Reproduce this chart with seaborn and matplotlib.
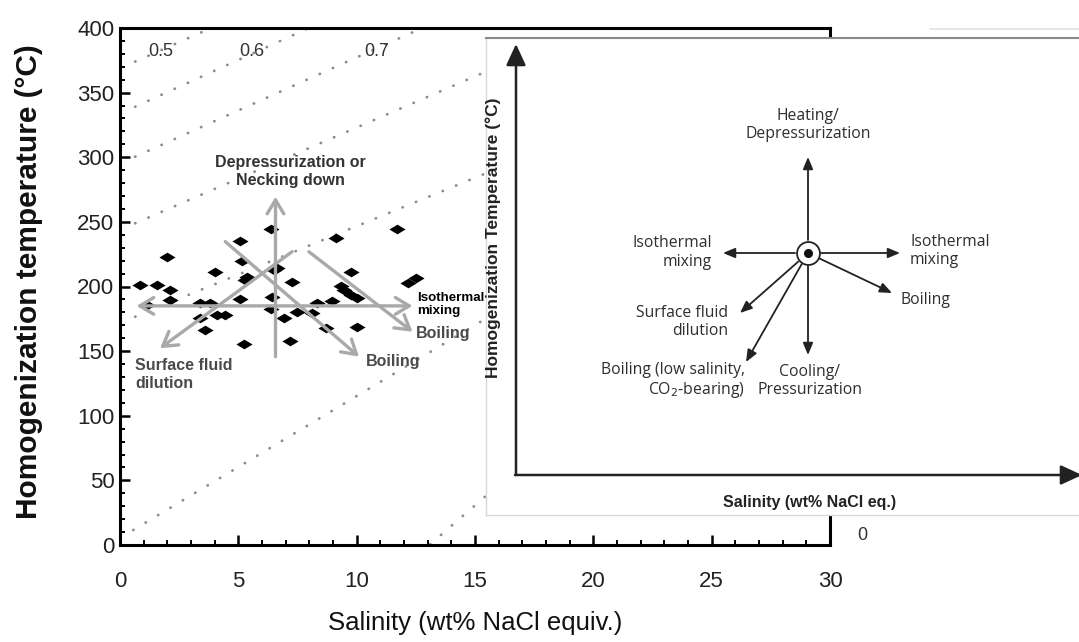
import matplotlib.pyplot as plt
from matplotlib.path import Path
from matplotlib.lines import Line2D
import pandas as pd
import seaborn as sns

sns.set_theme(style="white")
plt.rcParams["font.family"] = ["Liberation Sans", "DejaVu Sans"]

salinity = [6.36, 11.72, 5.08, 9.11, 1.98, 5.15, 4.03, 6.64, 6.5, 9.75, 5.37, 5.3, 7.27, 12.5,
            12.15, 0.85, 1.55, 2.12, 9.32, 9.46, 9.75, 10.03, 2.12, 5.08, 6.43, 8.33, 8.97, 1.13,
            3.39, 3.81, 6.36, 7.49, 8.12, 4.1, 4.45, 3.39, 6.92, 3.6, 8.69, 10.03, 5.22, 7.2]
th = [244.3, 244.3, 235.5, 237.3, 222.7, 220.1, 211.5, 214.1, 212.8, 211.5, 207.7, 205.0, 203.8,
      206.3, 202.5, 201.2, 201.2, 197.3, 200.4, 197.3, 193.5, 190.9, 189.7, 190.1, 192.1, 187.5,
      189.0, 185.7, 187.0, 187.0, 182.4, 180.6, 179.8, 178.0, 178.0, 175.4, 175.4, 166.4, 167.7,
      168.5, 155.5, 158.1]

# isochores (dotted lines), start and end point of each
iso_x0 = [0.64, 0.64, 0.64, 0.64, 0.64, 0.56, 13.1]
iso_y0 = [374.0, 339.1, 300.4, 248.9, 176.6, 11.6, 0.5]
iso_x1 = [3.85, 7.98, 12.77, 16.0, 16.0, 16.0, 16.0]
iso_y1 = [400.0, 400.0, 400.0, 370.5, 291.6, 181.1, 46.5]
density_labels = ["0.5", "0.6", "0.7"]
density_x = [1.74, 5.59, 10.85]

# trend arrows on the data panel: tail -> head
trend_x0 = [6.57, 7.27, 4.45, 7.98]
trend_y0 = [145.7, 226.9, 234.7, 226.9]
trend_x1 = [6.57, 1.69, 10.1, 12.36]
trend_y1 = [269.5, 152.2, 145.7, 165.0]
mix_x = [0.7, 12.36]
mix_y = 185.0

# schematic: process arrows from the starting fluid
proc_labels = ["Heating/\nDepressurization", "Isothermal\nmixing", "Isothermal\nmixing", "Boiling",
               "Surface fluid\ndilution", "Boiling (low salinity,\nCO$_2$-bearing)",
               "Cooling/\nPressurization"]
proc_dx = [0, -85, 92, 84, -68, -62, 0]
proc_dy = [96, 0, 0, -40, -60, -109, -102]

df = pd.DataFrame({"salinity": salinity, "th": th})

W, H = 1079, 642
fig = plt.figure(figsize=(W / 100, H / 100), dpi=100)
fig.patch.set_facecolor("white")
ax = fig.add_axes([120 / W, (H - 545) / H, 710 / W, 517 / H])

# isochores
for x0, y0, x1, y1 in zip(iso_x0, iso_y0, iso_x1, iso_y1):
    ax.plot([x0, x1], [y0, y1], color="#8c8c8c", lw=2.0, ls=(0, (0.1, 5.1)),
            dash_capstyle="round", zorder=1)
for lab, x in zip(density_labels, density_x):
    ax.text(x, 381.7, lab, ha="center", va="center", fontsize=13, color="#333333")

diamond = Path([(-1, 0), (0, 0.6), (1, 0), (0, -0.6), (-1, 0)],
               [Path.MOVETO, Path.LINETO, Path.LINETO, Path.LINETO, Path.CLOSEPOLY])
sns.scatterplot(data=df, x="salinity", y="th", marker=diamond, s=135, color="black",
                linewidth=0, ax=ax, zorder=3)

arrow_kw = dict(arrowstyle="->,head_length=0.5,head_width=0.3", mutation_scale=20,
                lw=2.4, color="#a9a9a9", shrinkA=0, shrinkB=0)
for x0, y0, x1, y1 in zip(trend_x0, trend_y0, trend_x1, trend_y1):
    ax.annotate("", xy=(x1, y1), xytext=(x0, y0), arrowprops=arrow_kw, zorder=4)
ax.annotate("", xy=(mix_x[1], mix_y), xytext=(mix_x[0], mix_y),
            arrowprops=dict(arrow_kw, arrowstyle="<->,head_length=0.5,head_width=0.3"), zorder=4)

ax.text(7.2, 288.6, "Depressurization or\nNecking down", ha="center", va="center",
        fontsize=11.5, fontweight="bold", color="#333333", linespacing=1.25)
ax.text(0.64, 132.3, "Surface fluid\ndilution", ha="left", va="center", fontsize=11.5,
        fontweight="bold", color="#4a4a4a", linespacing=1.25)
ax.text(10.38, 141.6, "Boiling", ha="left", va="center", fontsize=11.5,
        fontweight="bold", color="#4a4a4a")
ax.text(12.5, 164.0, "Boiling", ha="left", va="center", fontsize=11.5,
        fontweight="bold", color="#4a4a4a")
ax.text(12.55, 186.0, "Isothermal\nmixing", ha="left", va="center", fontsize=9.6,
        fontweight="bold", color="black", linespacing=1.15)

ax.set_xlim(0, 30)
ax.set_ylim(0, 400)
ax.set_xticks(range(0, 31, 5))
ax.set_xticks(range(0, 31), minor=True)
ax.set_yticks(range(0, 401, 50))
ax.set_yticks(range(0, 401, 10), minor=True)
ax.tick_params(which="major", direction="in", length=7, width=1.8, color="black",
               labelsize=16, labelcolor="#222222")
ax.tick_params(which="minor", direction="in", length=3.5, width=1.4, color="black")
ax.tick_params(axis="x", which="major", pad=19)
ax.tick_params(axis="y", which="major", pad=4)
ax.tick_params(left=True, bottom=True, which="both")
for s in ax.spines.values():
    s.set_linewidth(2.2)
    s.set_color("black")

ax.set_xlabel("Salinity (wt% NaCl equiv.)", fontsize=18.5, color="#111111")
ax.set_ylabel("Homogenization temperature (°C)", fontsize=21.5, fontweight="bold",
              color="#111111")
ax.xaxis.set_label_coords(0.5, -0.128)
ax.yaxis.set_label_coords(-0.108, 0.51)

# faint remnants around the pasted schematic
fig.add_artist(Line2D([930 / W, 1.0], [1 - 29 / H, 1 - 29 / H], color="#e2e2e2", lw=1.2))
fig.text(862 / W, 1 - 535 / H, "0", ha="center", va="center", fontsize=13, color="#333333")

# schematic inset (1 unit = 1 px, origin at the arrow axes corner)
axi = fig.add_axes([486 / W, (H - 515) / H, 600 / W, 477 / H])
axi.set_xlim(-30, 570)
axi.set_ylim(-40, 437)
axi.set_facecolor("white")
axi.set_xticks([])
axi.set_yticks([])
axi.spines["right"].set_visible(False)
axi.spines["left"].set_color("#d8d8d8")
axi.spines["bottom"].set_color("#d8d8d8")
axi.spines["left"].set_linewidth(1.0)
axi.spines["bottom"].set_linewidth(1.0)
axi.spines["top"].set_color("#8a8a8a")
axi.spines["top"].set_linewidth(1.5)

ax_arrow = dict(arrowstyle="-|>,head_length=0.65,head_width=0.3", mutation_scale=20,
                lw=1.8, color="#222222", shrinkA=0, shrinkB=0)
axi.annotate("", xy=(0, 431), xytext=(0, 0), arrowprops=ax_arrow)
axi.annotate("", xy=(566, 0), xytext=(-1, 0), arrowprops=ax_arrow)
axi.text(-23, 237, "Homogenization Temperature (°C)", rotation=90, ha="center", va="center",
         fontsize=12.5, fontweight="bold", color="#222222")
axi.text(294, -28, "Salinity (wt% NaCl eq.)", ha="center", va="center", fontsize=11.5,
         fontweight="bold", color="#222222")

cx, cy = 292, 222
small_arrow = dict(arrowstyle="-|>,head_length=0.6,head_width=0.25", mutation_scale=12,
                   lw=1.3, color="#222222", shrinkA=0, shrinkB=0)
for dx, dy in zip(proc_dx, proc_dy):
    r = (dx ** 2 + dy ** 2) ** 0.5
    axi.annotate("", xy=(cx + dx, cy + dy), xytext=(cx + 13 * dx / r, cy + 13 * dy / r),
                 arrowprops=small_arrow)
axi.plot(cx, cy, marker="o", ms=16.5, mfc="white", mec="#222222", mew=1.3)
axi.plot(cx, cy, marker="o", ms=5.5, mfc="#111111", mec="#111111")

lab_x = [cx, cx - 96, cx + 102, cx + 92, cx - 80, cx - 63, cx + 2]
lab_y = [cy + 128, cy + 0.5, cy + 2, cy - 47, cy - 69, cy - 128, cy - 128]
lab_ha = ["center", "right", "left", "left", "right", "right", "center"]
for lab, x, y, ha in zip(proc_labels, lab_x, lab_y, lab_ha):
    axi.text(x, y, lab, ha=ha, va="center", fontsize=11.3, color="#2e2e2e",
             family=["Open Sans", "DejaVu Sans"], linespacing=1.2)

fig.savefig("out.png", dpi=100)
